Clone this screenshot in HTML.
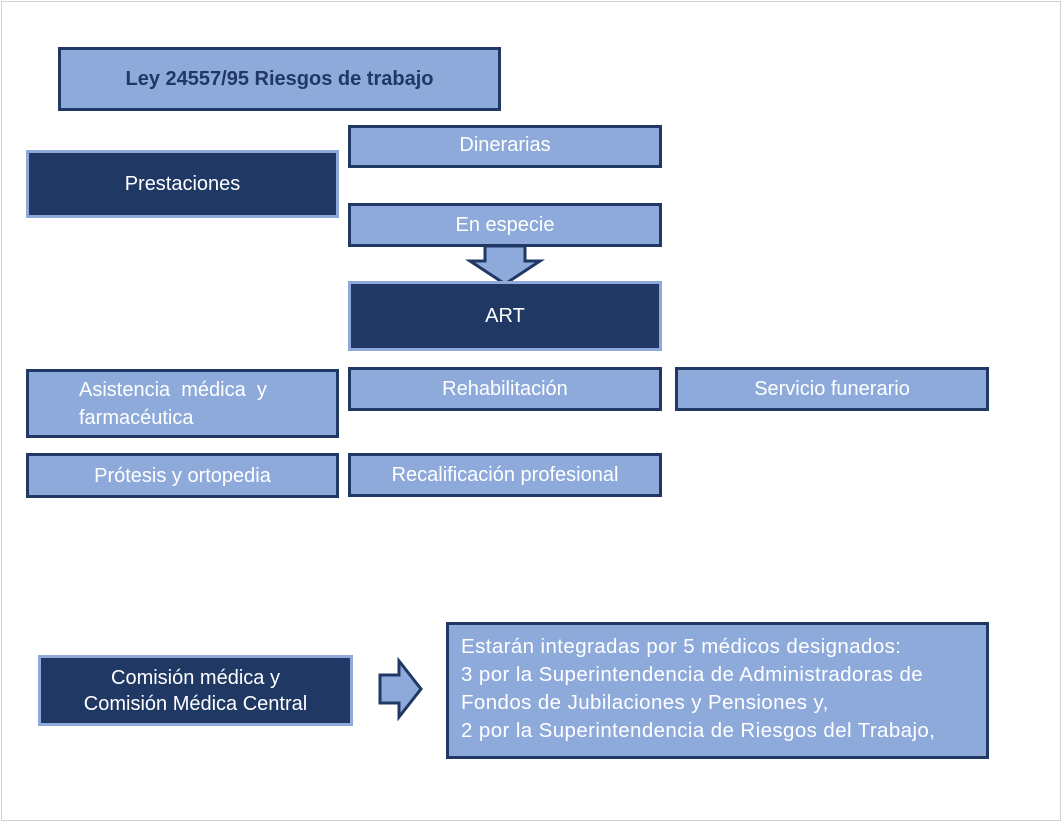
<!DOCTYPE html>
<html><head><meta charset="utf-8"><style>
body{margin:0;width:1062px;height:822px;background:#fff;position:relative;overflow:hidden;font-family:"Liberation Sans",sans-serif;}
.frame{position:absolute;left:1px;top:1px;width:1058px;height:818px;border:1px solid #d0d0d0;}
.b{position:absolute;box-sizing:border-box;display:flex;align-items:center;justify-content:center;text-align:center;color:#fff;font-size:20px;line-height:26px;}
.l{background:#8eaadb;border:3px solid #1f3864;}
.d{background:#1f3864;border:3px solid #8eaadb;}
</style></head><body>
<div class="frame"></div>
<div class="b l" style="left:58px;top:47px;width:443px;height:64px;color:#1f3864;font-weight:bold;font-size:20px;">Ley 24557/95 Riesgos de trabajo</div>
<div class="b d" style="left:26px;top:150px;width:313px;height:68px;">Prestaciones</div>
<div class="b l" style="left:348px;top:125px;width:314px;height:43px;padding-bottom:4px;">Dinerarias</div>
<div class="b l" style="left:348px;top:203px;width:314px;height:44px;">En especie</div>
<svg style="position:absolute;left:0;top:0" width="1062" height="822">
<polygon points="485,246 525,246 525,261 540,261 505,284 470,261 485,261" fill="#8eaadb" stroke="#1f3864" stroke-width="3" stroke-linejoin="miter"/>
<polygon points="380,675 399,675 399,661 421,689 399,717 399,703 380,703" fill="#8eaadb" stroke="#1f3864" stroke-width="3"/>
</svg>
<div class="b d" style="left:348px;top:281px;width:314px;height:70px;">ART</div>
<div class="b l" style="left:26px;top:369px;width:313px;height:69px;justify-content:flex-start;text-align:left;padding-left:50px;line-height:28px;">Asistencia&nbsp; médica&nbsp; y<br>farmacéutica</div>
<div class="b l" style="left:348px;top:367px;width:314px;height:44px;">Rehabilitación</div>
<div class="b l" style="left:675px;top:367px;width:314px;height:44px;">Servicio funerario</div>
<div class="b l" style="left:26px;top:453px;width:313px;height:45px;">Prótesis y ortopedia</div>
<div class="b l" style="left:348px;top:453px;width:314px;height:44px;">Recalificación profesional</div>
<div class="b d" style="left:38px;top:655px;width:315px;height:71px;">Comisión médica y<br>Comisión Médica Central</div>
<div class="b l" style="left:446px;top:622px;width:543px;height:137px;justify-content:flex-start;align-items:flex-start;text-align:left;padding:8px 0 0 12px;line-height:28px;font-size:20.5px;letter-spacing:0.4px;white-space:nowrap;">Estarán integradas por 5 médicos designados:<br>3 por la Superintendencia de Administradoras de<br>Fondos de Jubilaciones y Pensiones y,<br>2 por la Superintendencia de Riesgos del Trabajo,</div>
</body></html>
